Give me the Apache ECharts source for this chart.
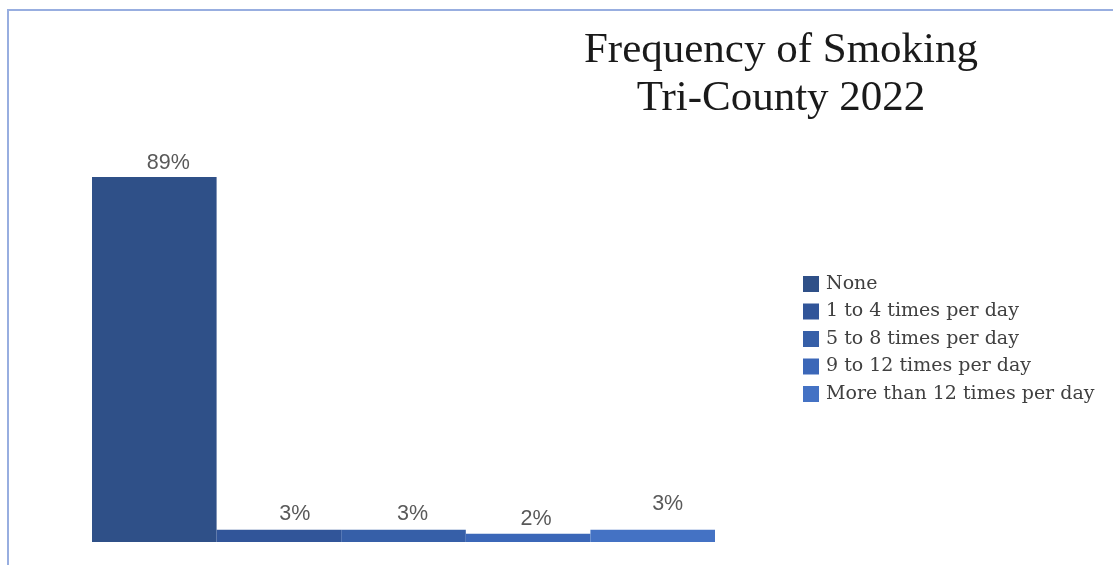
<!DOCTYPE html>
<html>
<head>
<meta charset="utf-8">
<script src="https://cdn.jsdelivr.net/npm/echarts@6/dist/echarts.min.js"></script>
<style>
html,body{margin:0;padding:0;background:#fff;}
#chart{width:1113px;height:565px;}
</style>
</head>
<body>
<div id="chart"></div>
<script>
const titleLines = ['Frequency of Smoking', 'Tri-County 2022'];
const categories = ['None', '1 to 4 times per day', '5 to 8 times per day', '9 to 12 times per day', 'More than 12 times per day'];
const values = [89, 3, 3, 2, 3];
const colors = ['#2f5088', '#315599', '#365fa8', '#3b67b8', '#4472c4'];
const labelOffsets = [[14, -3], [16, -5], [9, -5], [8, -4], [15, -15]];

const chart = echarts.init(document.getElementById('chart'));
const series = categories.map((name, i) => ({
  name: name,
  type: 'bar',
  data: [values[i]],
  barGap: '0%',
  barCategoryGap: '0%',
  itemStyle: { color: colors[i] },
  label: {
    show: true,
    position: 'top',
    distance: 0,
    offset: labelOffsets[i],
    formatter: p => p.value + '%',
    fontFamily: 'Liberation Sans',
    fontSize: 21.5,
    color: '#595959'
  }
}));

chart.setOption({
  animation: false,
  backgroundColor: '#ffffff',
  graphic: [{
    type: 'rect',
    shape: { x: 8, y: 10, width: 1300, height: 800 },
    style: { fill: 'none', stroke: '#98aee0', lineWidth: 2 },
    silent: true
  }],
  title: {
    text: titleLines.join('\n'),
    left: 776,
    top: 22,
    textAlign: 'center',
    textStyle: {
      fontFamily: 'Liberation Serif',
      fontSize: 43,
      fontWeight: 'normal',
      color: '#1a1a1a',
      lineHeight: 48,
      align: 'center'
    }
  },
  legend: {
    orient: 'vertical',
    left: 798,
    top: 269,
    itemWidth: 16,
    itemHeight: 16,
    itemGap: 7.5,
    icon: 'rect',
    textStyle: {
      fontFamily: 'DejaVu Serif',
      fontSize: 19,
      lineHeight: 20,
      color: '#404040',
      padding: [0, 0, 0, 2]
    },
    data: categories
  },
  grid: { left: 92, top: 132, width: 623, bottom: 23 },
  xAxis: {
    type: 'category',
    data: [''],
    show: false
  },
  yAxis: {
    type: 'value',
    min: 0,
    max: 100,
    show: false
  },
  series: series
});
</script>
</body>
</html>
